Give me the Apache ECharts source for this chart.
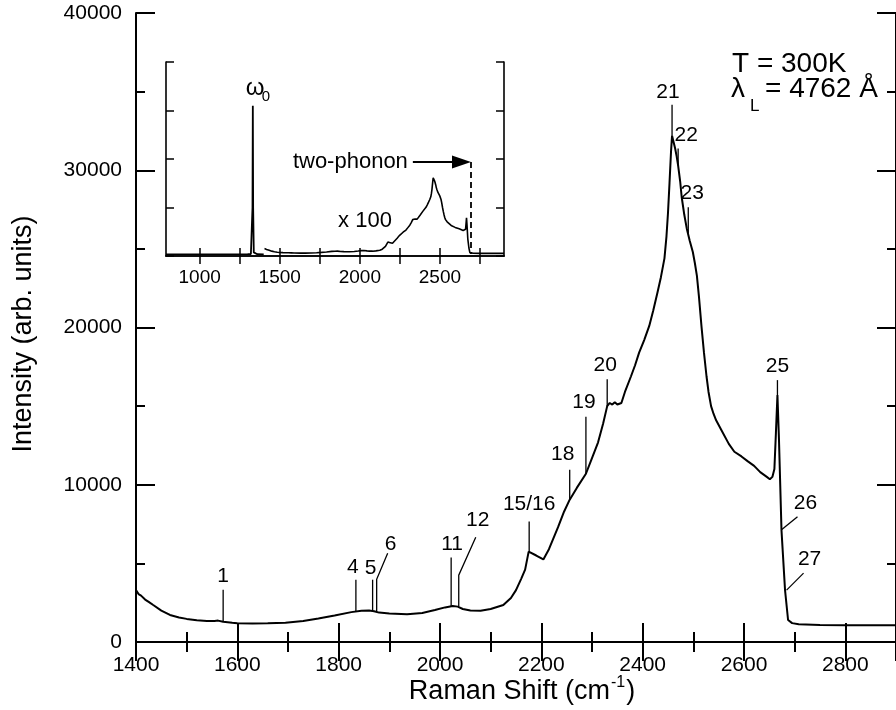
<!DOCTYPE html>
<html><head><meta charset="utf-8">
<script src="https://cdn.jsdelivr.net/npm/echarts@6/dist/echarts.min.js"></script>
<style>html,body{margin:0;padding:0;background:#fff}#c{width:896px;height:710px}</style>
</head><body><div id="c"></div>
<script>
// ---------------- DATA ----------------
const ramanShift = [1400,1405,1410,1418,1425,1434,1450,1467,1485,1500,1520,1540,1555,1562,1572,1590,1600,1630,1660,1695,1730,1760,1792,1825,1845,1860,1870,1880,1900,1935,1965,1990,2010,2025,2035,2045,2060,2080,2100,2125,2140,2150,2160,2168,2175,2190,2204,2215,2233,2245,2256,2270,2288,2300,2312,2322,2330,2335,2340,2345,2350,2358,2365,2377,2385,2393,2403,2413,2421,2429,2436,2443,2447,2450,2453,2456,2458,2461,2464,2467,2470,2474,2477,2482,2487,2493,2499,2503,2507,2511,2516,2521,2526,2530,2535,2540,2545,2555,2570,2581,2595,2607,2620,2632,2645,2651,2656,2660,2663,2666,2669,2674,2681,2687,2695,2708,2750,2800,2850,2900];
const intensity  = [3300,3050,2950,2700,2550,2350,2000,1720,1560,1470,1390,1340,1340,1360,1290,1220,1190,1180,1190,1230,1330,1490,1680,1900,1980,2010,1960,1870,1810,1760,1850,2030,2200,2290,2250,2100,2000,1990,2100,2350,2800,3300,4000,4600,5750,5500,5250,5900,7300,8300,9050,9800,10700,11700,12700,13900,15000,15200,15100,15250,15100,15200,15900,16900,17600,18400,19200,20100,21100,22200,23200,24400,25800,27300,29200,31200,32200,31800,31400,30900,30300,29300,28300,27200,26300,25500,24800,24100,23300,22000,20100,18400,16900,15900,15000,14500,14100,13500,12600,12100,11800,11500,11200,10800,10500,10350,10500,11000,13300,15700,12900,7100,3300,1400,1200,1130,1080,1070,1070,1070];

// inset: first-order line (omega_0) in inset units
const omegaShift     = [790,1300,1320,1326,1330,1332,1334,1338,1344,1360,1400];
const omegaIntensity = [700,750,800,1500,20000,62000,20000,1500,800,750,700];

// peak labels
const peakLabels    = ['1','4','5','6','11','12','15/16','18','19','20','21','22','23','25','26','27'];
const peakShift     = [1572,1834,1867,1875,2022,2037,2176,2256,2288,2330,2458,2470,2490,2666,2674,2684];
const peakIntensity = [1290,1930,1990,1950,2260,2280,5750,9050,10700,15000,32200,30300,26000,15700,7140,3300];

// tick labels
const mainXTicks  = [1400,1600,1800,2000,2200,2400,2600,2800];
const mainYTicks  = [0,10000,20000,30000,40000];
const insetXTicks = [1000,1500,2000,2500];
const insetXMinor = [1000,1250,1500,1750,2000,2250,2500,2750];
const twoPhononEdge = 2694;

// ---------------- LAYOUT / STYLE ----------------
const FONT = "'Liberation Sans', Arial, Helvetica, sans-serif";
const leaderPaths = [
  [[0,-32]], [[0,-32]], [[0,-31]], [[0,-32],[11,-58]], [[0,-49]], [[0,-31],[17,-69]],
  [[0,-30]], [[0,-30]], [[0,-57]], [[0,-27]], [[0,-31]], [[0,-17]], [[0,-26]],
  [[0,-15]], [[16,-13]], [[17,-17]]
];
const labelOffsets = [
  [0,-46], [-3,-44], [-2,-43], [14,-67], [1,-62], [19,-86],
  [0,-47], [-7,-45], [-2,-72], [-2,-41], [-4,-43], [8,-30], [4,-40],
  [0,-29], [24,-27], [23,-31]
];

const zip = (a,b) => a.map((v,i)=>[v,b[i]]);
const plain = v => String(v);
const chart = echarts.init(document.getElementById('c'), null, {renderer:'canvas'});

const axisLineS = {lineStyle:{color:'#000', width:2}};
const option = {
  animation:false,
  backgroundColor:'#fff',
  grid:[
    {left:136, top:13, width:770, height:629, show:false},
    {left:166, top:62, width:338, height:194, show:false}
  ],
  xAxis:[
    {gridIndex:0, type:'value', min:1400, max:2900, interval:200, position:'bottom',
     axisLine:axisLineS, splitLine:{show:false},
     axisTick:{inside:true, length:19, lineStyle:{width:2,color:'#000'}},
     minorTick:{show:true, splitNumber:2, length:10, lineStyle:{width:2,color:'#000'}},
     axisLabel:{customValues:mainXTicks, formatter:plain, margin:13, color:'#000', fontSize:21, fontFamily:FONT}},
    {gridIndex:0, type:'value', min:1400, max:2900, interval:200, position:'top',
     axisLine:axisLineS, splitLine:{show:false},
     axisTick:{inside:true, length:19, lineStyle:{width:2,color:'#000'}},
     minorTick:{show:true, splitNumber:2, length:10, lineStyle:{width:2,color:'#000'}},
     axisLabel:{show:false}},
    {gridIndex:1, type:'value', min:790, max:2900, position:'bottom',
     axisLine:{lineStyle:{color:'#000', width:1.6}}, splitLine:{show:false},
     axisTick:{inside:true, length:8, customValues:insetXMinor, lineStyle:{width:1.5,color:'#000'}},
     axisLabel:{customValues:insetXTicks, formatter:plain, margin:12, color:'#000', fontSize:19, fontFamily:FONT}},
    {gridIndex:1, type:'value', min:790, max:2900, position:'top',
     axisLine:{lineStyle:{color:'#000', width:1.6}}, splitLine:{show:false},
     axisTick:{inside:true, length:8, customValues:insetXMinor, lineStyle:{width:1.5,color:'#000'}},
     axisLabel:{show:false}}
  ],
  yAxis:[
    {gridIndex:0, type:'value', min:0, max:40000, interval:10000, position:'left',
     axisLine:{show:true, lineStyle:{color:'#000', width:2}}, splitLine:{show:false},
     axisTick:{show:true, inside:true, length:19, lineStyle:{width:2,color:'#000'}},
     minorTick:{show:true, splitNumber:2, length:9, lineStyle:{width:2,color:'#000'}},
     axisLabel:{customValues:mainYTicks, formatter:plain, margin:14, color:'#000', fontSize:21, fontFamily:FONT}},
    {gridIndex:0, type:'value', min:0, max:40000, interval:10000, position:'right',
     axisLine:{show:true, lineStyle:{color:'#000', width:2}}, splitLine:{show:false},
     axisTick:{show:true, inside:true, length:19, lineStyle:{width:2,color:'#000'}},
     minorTick:{show:true, splitNumber:2, length:9, lineStyle:{width:2,color:'#000'}},
     axisLabel:{show:false}},
    {gridIndex:1, type:'value', min:0, max:80000, interval:20000, position:'left',
     axisLine:{show:true, lineStyle:{color:'#000', width:1.6}}, splitLine:{show:false},
     axisTick:{show:true, inside:true, length:8, lineStyle:{width:1.5,color:'#000'}},
     axisLabel:{show:false}},
    {gridIndex:1, type:'value', min:0, max:80000, interval:20000, position:'right',
     axisLine:{show:true, lineStyle:{color:'#000', width:1.6}}, splitLine:{show:false},
     axisTick:{show:true, inside:true, length:8, lineStyle:{width:1.5,color:'#000'}},
     axisLabel:{show:false}}
  ],
  series:[
    {type:'line', xAxisIndex:0, yAxisIndex:0, data:zip(ramanShift,intensity),
     showSymbol:false, lineStyle:{color:'#000', width:2}, silent:true},
    {type:'line', xAxisIndex:2, yAxisIndex:2, data:zip(omegaShift,omegaIntensity),
     showSymbol:false, lineStyle:{color:'#000', width:1.8}, silent:true},
    {type:'line', xAxisIndex:2, yAxisIndex:2, data:zip(ramanShift,intensity).filter(p=>p[0]>=1405),
     showSymbol:false, lineStyle:{color:'#000', width:1.6}, silent:true}
  ]
};
chart.setOption(option);

// ---------------- ANNOTATIONS ----------------
const mctx = document.createElement('canvas').getContext('2d');
const textW = (t, size) => { mctx.font = size+'px '+FONT; return mctx.measureText(t).width; };
const g = [];
const txt = (text, x, y, size, align, extra) => Object.assign({
  type:'text', x:x, y:y, silent:true, z:100,
  style:{text:text, fill:'#000', font:size+'px '+FONT,
         align:align||'center', textAlign:align||'center',
         verticalAlign:'middle', textVerticalAlign:'middle'}}, extra||{});

peakLabels.forEach((lab,i)=>{
  const a = chart.convertToPixel({xAxisIndex:0, yAxisIndex:0}, [peakShift[i], peakIntensity[i]]);
  const pts = [[a[0],a[1]]].concat(leaderPaths[i].map(p=>[a[0]+p[0], a[1]+p[1]]));
  g.push({type:'polyline', silent:true, z:100, shape:{points:pts},
          style:{stroke:'#000', lineWidth:1.3, fill:null}});
  g.push(txt(lab, a[0]+labelOffsets[i][0], a[1]+labelOffsets[i][1], 21));
});

// condition text
g.push(txt('T = 300K', 732, 64, 28, 'left'));
g.push(txt('λ', 731, 89, 28, 'left'));
g.push(txt('L', 750, 106, 17, 'left'));
g.push(txt('= 4762 Å', 765, 89, 28, 'left'));

// axis titles
const t1 = 'Raman Shift (cm';
const w1 = textW(t1, 27);
const x0 = 522 - (w1 + textW('-1',16) + 2 + textW(')',27)) / 2;
g.push(txt(t1, x0, 692, 27, 'left'));
g.push(txt('-1', x0 + w1 + 1, 683, 16, 'left'));
g.push(txt(')', x0 + w1 + 2 + textW('-1',16), 692, 27, 'left'));
g.push(txt('Intensity (arb. units)', 24, 334, 27, 'center', {rotation:Math.PI/2}));

// inset annotations
const arrowY = 38760;
const pA = chart.convertToPixel({xAxisIndex:2, yAxisIndex:2}, [2331, arrowY]);
const pB = chart.convertToPixel({xAxisIndex:2, yAxisIndex:2}, [twoPhononEdge, arrowY]);
const pC = chart.convertToPixel({xAxisIndex:2, yAxisIndex:2}, [twoPhononEdge, 0]);
g.push({type:'line', silent:true, z:100, shape:{x1:pA[0], y1:pA[1], x2:pB[0]-16, y2:pB[1]},
        style:{stroke:'#000', lineWidth:2}});
g.push({type:'polygon', silent:true, z:100, shape:{points:[[pB[0]-19,pB[1]-6.5],[pB[0],pB[1]],[pB[0]-19,pB[1]+6.5]]},
        style:{fill:'#000'}});
g.push({type:'line', silent:true, z:100, shape:{x1:pB[0], y1:pB[1], x2:pC[0], y2:pC[1]-2},
        style:{stroke:'#000', lineWidth:1.8, lineDash:[6,4]}});
g.push(txt('two-phonon', pA[0]-5, pA[1], 22, 'right'));
g.push(txt('x 100', 365, 221, 22, 'center'));
const pw = chart.convertToPixel({xAxisIndex:2, yAxisIndex:2}, [1332, 62000]);
g.push(txt('ω', pw[0]-7, pw[1]-17, 24, 'left'));
g.push(txt('0', pw[0]+9, pw[1]-9, 15, 'left'));

chart.setOption({graphic:{elements:g}});
</script></body></html>
